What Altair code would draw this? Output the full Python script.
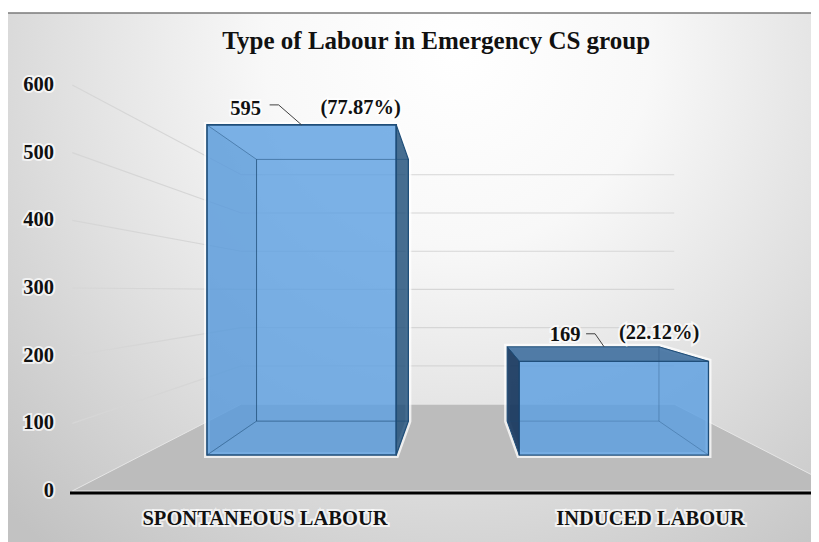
import altair as alt
import pandas as pd

categories = ["SPONTANEOUS  LABOUR", "INDUCED LABOUR"]
counts = [595, 169]
percent_labels = ["(77.87%)", "(22.12%)"]
y_ticks = [0, 100, 200, 300, 400, 500, 600]
chart_title = "Type of Labour in Emergency CS group"

FONT = "Liberation Serif"
INK = "#111111"
W, H = 803, 534
PX_PER_UNIT_Y, PX_PER_CAT = 0.6767, 385.5
BASE_PY, CAT0_PX = 491, 265
HORIZON = 295  # value-equivalent height of the vanishing line
HALF = 0.303

def ux(px):
    return (px - CAT0_PX) / PX_PER_CAT

def vy(py):
    return (BASE_PY - py) / PX_PER_UNIT_Y

x_scale = alt.Scale(domain=[ux(8), ux(8 + W)], nice=False, zero=False)
y_scale = alt.Scale(domain=[vy(8 + H), vy(8)], nice=False, zero=False)

# perspective planes: (x shrink, y shrink)
FRONT, BACK, WALL, NEAR = (0.81, 0.82), (0.65, 0.65), (0.5616, 0.565), (1.0, 1.0)

def project(u, v, plane):
    return 0.5 + plane[0] * (u - 0.5), (1 - plane[1]) * HORIZON + plane[1] * v

def vertex(i, name):
    plane = FRONT if name[0] == "f" else BACK
    u = i + (-HALF if name[2] == "l" else HALF)
    v = counts[i] if name[1] == "t" else 0
    return project(u, v, plane)

def poly(points):
    return pd.DataFrame([{"U": p[0], "V": p[1], "k": k} for k, p in enumerate(points)])

def face(i, names):
    return poly([vertex(i, n) for n in names])

X = alt.X("U:Q", scale=x_scale, axis=None)
Y = alt.Y("V:Q", scale=y_scale, axis=None)

def shape(df, closed=True, clip=False, **style):
    kw = dict(style)
    if closed:
        kw["interpolate"] = "linear-closed"
    if clip:
        kw["clip"] = True
    return alt.Chart(df).mark_line(**kw).encode(x=X, y=Y, order="k:Q")

def text_with_halo(df, size, align="center", halo=4):
    enc = dict(x=X, y=Y, text="t:N")
    common = dict(font=FONT, fontWeight="bold", fontSize=size, align=align, baseline="middle")
    return [
        alt.Chart(df).mark_text(stroke="#ffffff", strokeWidth=halo, strokeOpacity=0.7, color="#ffffff", **common).encode(**enc),
        alt.Chart(df).mark_text(color=INK, **common).encode(**enc),
    ]

one = pd.DataFrame({"a": [0]})
layers = []

# page background of the chart
bg = alt.Gradient(
    gradient="radial", x1=0.56, y1=0.22, r1=0.0, x2=0.56, y2=0.22, r2=0.8,
    stops=[
        alt.GradientStop(color="#ffffff", offset=0),
        alt.GradientStop(color="#f8f8f8", offset=0.3),
        alt.GradientStop(color="#e0e0e0", offset=0.62),
        alt.GradientStop(color="#c2c2c2", offset=1),
    ],
)
layers.append(alt.Chart(one).mark_rect(color=bg).encode(
    x=alt.value(0), x2=alt.value(W), y=alt.value(5), y2=alt.value(H)))
layers.append(alt.Chart(one).mark_rule(color="#7a7a7a", strokeWidth=1.5).encode(
    x=alt.value(0), x2=alt.value(W), y=alt.value(5)))

# wall gridlines
for t in y_ticks[1:]:
    pts = [project(-0.5, t, NEAR), project(-0.5, t, WALL), project(1.5, t, WALL)]
    layers.append(shape(poly(pts), closed=False, stroke="#d6d6d6", strokeWidth=1.2))

# floor
floor = [project(-0.5, 0, NEAR), project(-0.5, 0, WALL), project(1.5, 0, WALL), project(1.5, 0, NEAR)]
layers.append(shape(poly(floor), clip=True, fill="#bcbcbc", stroke="#e6e6e6", strokeWidth=1))

# white glow round the bars
sil = [
    (0, ["ftl", "ftr", "btr", "bbr", "fbr", "fbl"]),
    (1, ["btl", "btr", "ftr", "fbr", "fbl", "bbl"]),
]
for i, names in sil:
    layers.append(shape(face(i, names), stroke="#ffffff", strokeWidth=6, strokeOpacity=0.75))

EDGE = "#1f4e79"
# bar 1
layers.append(shape(face(0, ["ftl", "ftr", "fbr", "fbl"]), fill="#5b9fe1", fillOpacity=0.8, stroke=EDGE, strokeWidth=1.6))
layers.append(shape(face(0, ["ftl", "btl", "bbl", "fbl"]), fill="#4f86bd", fillOpacity=0.14, stroke=EDGE, strokeWidth=0.8, strokeOpacity=0.6))
layers.append(shape(face(0, ["fbl", "bbl", "bbr", "fbr"]), fill="#4f86bd", fillOpacity=0.06, stroke=EDGE, strokeWidth=0.6, strokeOpacity=0.25))
layers.append(shape(face(0, ["ftr", "btr", "bbr", "fbr"]), fill="#1f4e79", fillOpacity=0.82, stroke=EDGE, strokeWidth=1.2))
layers.append(shape(face(0, ["btl", "btr", "bbr", "bbl"]), stroke=EDGE, strokeWidth=0.9, strokeOpacity=0.6))
# bar 2
layers.append(shape(face(1, ["ftl", "ftr", "fbr", "fbl"]), fill="#5b9fe1", fillOpacity=0.82, stroke=EDGE, strokeWidth=1.3))
layers.append(shape(face(1, ["btl", "btr", "ftr", "ftl"]), fill="#3f6f9f", fillOpacity=0.9, stroke=EDGE, strokeWidth=1))
layers.append(shape(face(1, ["btl", "ftl", "fbl", "bbl"]), fill="#17375e", fillOpacity=0.92, stroke=EDGE, strokeWidth=1))
layers.append(shape(face(1, ["btr", "ftr", "fbr", "bbr"]), stroke=EDGE, strokeWidth=0.7, strokeOpacity=0.5))
layers.append(shape(face(1, ["bbl", "bbr"]), closed=False, stroke=EDGE, strokeWidth=0.7, strokeOpacity=0.4))

# data labels and leaders (anchored on the bar's highest edge, offsets in screen px)
anchors = [project(0, counts[0], FRONT), project(1.084, counts[1], BACK)]
count_off = [(-56, -16), (-39, -12)]
pct_off = [(59, -17), (55, -14)]
leader_off = [[(-32, -20), (-23, -20), (0, 0)], [(-18, -13), (-9, -13), (0, 0)]]
rows = []
for i, (au, av) in enumerate(anchors):
    pts = [(au + dx / PX_PER_CAT, av - dy / PX_PER_UNIT_Y) for dx, dy in leader_off[i]]
    layers.append(shape(poly(pts), closed=False, stroke="#404040", strokeWidth=1))
    rows.append({"U": au + count_off[i][0] / PX_PER_CAT, "V": av - count_off[i][1] / PX_PER_UNIT_Y, "t": str(counts[i])})
    rows.append({"U": au + pct_off[i][0] / PX_PER_CAT, "V": av - pct_off[i][1] / PX_PER_UNIT_Y, "t": percent_labels[i]})
layers += text_with_halo(pd.DataFrame(rows), 20.5)

# baseline
base = pd.DataFrame({"U": [ux(70), ux(8 + W)], "V": [vy(493), vy(493)], "k": [0, 1]})
layers.append(shape(base, closed=False, stroke="#000000", strokeWidth=3))

# tick labels
y_labels = pd.DataFrame({"U": [ux(54)] * len(y_ticks), "V": y_ticks, "t": [str(t) for t in y_ticks]})
layers += text_with_halo(y_labels, 20.5, align="right")
x_labels = pd.DataFrame({"U": [0, 1], "V": [vy(518.5)] * 2, "t": categories})
layers += text_with_halo(x_labels, 20.5)

chart = alt.layer(*layers).properties(
    width=W, height=H, padding=0,
    autosize=alt.AutoSizeParams(type="none"),
    title=alt.TitleParams(chart_title, font=FONT, fontWeight="bold", fontSize=25, color=INK,
                          anchor="start", dx=215, dy=46, offset=0),
    background="#ffffff",
).configure_view(stroke=None)

chart.save("out.html", embed_options={"renderer": "svg", "actions": False})
